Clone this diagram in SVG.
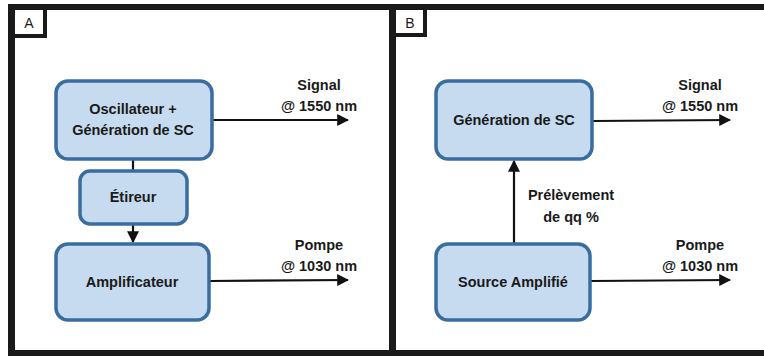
<svg xmlns="http://www.w3.org/2000/svg" width="764" height="356" viewBox="0 0 764 356">
<defs>
<style>
.frame{fill:#1a1a1a}
.lbl{fill:#fff;stroke:#1a1a1a;stroke-width:4}
.lbltxt{font-family:"Liberation Sans",Arial,sans-serif;font-size:14px;fill:#1a1a1a;text-anchor:middle}
.box{fill:#c6dbef;stroke:#3a6d9f;stroke-width:3.5}
.t{font-family:"Liberation Sans",Arial,sans-serif;font-weight:bold;font-size:14.5px;fill:#1a1a1a;text-anchor:middle}
.ln{stroke:#111;stroke-width:2.2;fill:none}
</style>
<marker id="ah" viewBox="0 0 10 10" refX="9" refY="5" markerWidth="7" markerHeight="7" markerUnits="userSpaceOnUse" orient="auto">
<path d="M0,0 L10,5 L0,10 z" fill="#111"/>
</marker>
<marker id="ahb" viewBox="0 0 10 10" refX="9" refY="5" markerWidth="12" markerHeight="12" markerUnits="userSpaceOnUse" orient="auto">
<path d="M0,0 L10,5 L0,10 z" fill="#111"/>
</marker>
</defs>
<rect width="764" height="356" fill="#fff"/>
<g id="frame">
<rect class="frame" x="8" y="4" width="756" height="6"/>
<rect class="frame" x="8" y="4" width="7" height="352"/>
<rect class="frame" x="389" y="4" width="7" height="352"/>
<rect class="frame" x="8" y="350" width="756" height="6"/>
<rect class="lbl" x="13" y="8" width="32" height="28"/>
<text class="lbltxt" x="29" y="28">A</text>
<rect class="lbl" x="394" y="8" width="31" height="27"/>
<text class="lbltxt" x="410" y="28">B</text>
</g>
<g id="connectors">
<line class="ln" x1="212" y1="120" x2="348" y2="120" marker-end="url(#ahb)"/>
<line class="ln" x1="133" y1="160" x2="133" y2="170"/>
<line class="ln" x1="133" y1="225" x2="133" y2="242" marker-end="url(#ahb)"/>
<line class="ln" x1="210" y1="281" x2="348" y2="280" marker-end="url(#ahb)"/>
<line class="ln" x1="593" y1="121" x2="730" y2="120" marker-end="url(#ahb)"/>
<line class="ln" x1="514" y1="243" x2="514" y2="161" marker-end="url(#ahb)"/>
<line class="ln" x1="591" y1="281" x2="730" y2="280" marker-end="url(#ahb)"/>
<text class="t" x="319" y="90">Signal</text>
<text class="t" x="319" y="111">@ 1550 nm</text>
<text class="t" x="319" y="250">Pompe</text>
<text class="t" x="319" y="271">@ 1030 nm</text>
<text class="t" x="700" y="90">Signal</text>
<text class="t" x="700" y="111">@ 1550 nm</text>
<text class="t" x="700" y="250">Pompe</text>
<text class="t" x="700" y="271">@ 1030 nm</text>
<text class="t" x="571" y="200">Prélèvement</text>
<text class="t" x="571" y="222">de qq %</text>
</g>
<g id="osc">
<rect class="box" x="56" y="81" width="156" height="78" rx="12"/>
<text class="t" x="133" y="114">Oscillateur +</text>
<text class="t" x="133" y="135">Génération de SC</text>
</g>
<g id="etireur">
<rect class="box" x="80" y="171" width="107" height="53" rx="10"/>
<text class="t" x="133" y="202">Étireur</text>
</g>
<g id="ampli">
<rect class="box" x="56" y="244" width="153" height="76" rx="12"/>
<text class="t" x="132" y="287">Amplificateur</text>
</g>
<g id="gen">
<rect class="box" x="436" y="81" width="156" height="78" rx="12"/>
<text class="t" x="514" y="125">Génération de SC</text>
</g>
<g id="source">
<rect class="box" x="436" y="244" width="154" height="76" rx="12"/>
<text class="t" x="513" y="287">Source Amplifié</text>
</g>
</svg>
